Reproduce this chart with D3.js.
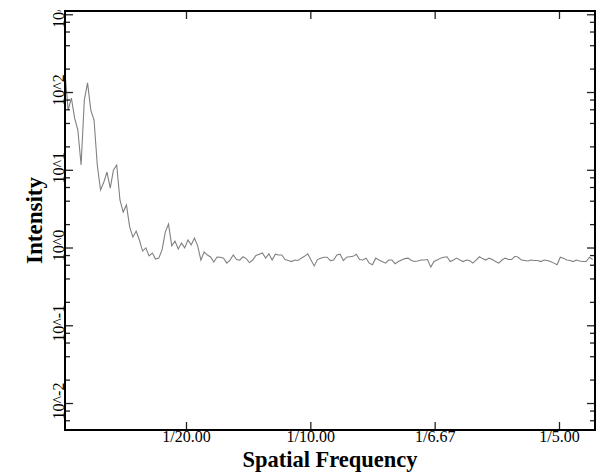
<!DOCTYPE html>
<html>
<head>
<meta charset="utf-8">
<script src="https://cdn.jsdelivr.net/npm/d3@7"></script>
<style>
  body { margin: 0; background: #fff; }
  text { font-family: "Liberation Serif", "DejaVu Serif", serif; fill: #000; }
</style>
</head>
<body>
<div id="chart"></div>
<script>
// samples are evenly spaced in spatial frequency
const freqStep = 1 / 768;

// intensity values
const intensity = [
  181, 58.6, 83.7, 46.3, 32.4, 11.5, 78.8, 131, 58.6, 43.6,
  11.5, 5.49, 6.9, 9.35, 5.82, 9.93, 11.5, 4.09, 2.86, 3.52,
  1.84, 1.36, 1.63, 1.25, 0.90, 0.99, 0.78, 0.85, 0.71, 0.73,
  0.93, 1.58, 2.00, 1.05, 1.21, 0.96, 1.14, 0.99, 1.25, 1.08,
  1.32, 1.05, 0.69, 0.875, 0.80, 0.755, 0.65, 0.755,
  0.75, 0.73, 0.63, 0.69, 0.80, 0.70, 0.69, 0.76, 0.72, 0.64,
  0.69, 0.79, 0.82, 0.85, 0.73, 0.83, 0.69, 0.82, 0.80, 0.80,
  0.70, 0.68, 0.66, 0.69, 0.68, 0.73, 0.77, 0.83, 0.69, 0.58,
  0.70, 0.73, 0.75, 0.75, 0.68, 0.69, 0.80, 0.82, 0.68, 0.75,
  0.76, 0.77, 0.82, 0.70, 0.69, 0.73, 0.63, 0.60, 0.73, 0.69,
  0.66, 0.63, 0.69, 0.69, 0.62, 0.66, 0.69, 0.72, 0.73, 0.68,
  0.66, 0.67, 0.69, 0.69, 0.70, 0.56, 0.66, 0.69, 0.73, 0.75,
  0.76, 0.66, 0.69, 0.73, 0.69, 0.66, 0.69, 0.68, 0.63, 0.69,
  0.76, 0.72, 0.69, 0.73, 0.70, 0.66, 0.63, 0.69, 0.73, 0.70,
  0.70, 0.77, 0.75, 0.69, 0.68, 0.67, 0.69, 0.68, 0.68, 0.66,
  0.69, 0.68, 0.66, 0.63, 0.60, 0.75, 0.73, 0.69, 0.68, 0.66,
  0.69, 0.67, 0.66, 0.66, 0.75, 0.70
];

// x ticks (frequency) and y ticks (decades)
const xTicks = [0.05, 0.1, 0.15, 0.2];
const yDecades = [-2, -1, 0, 1, 2, 3];
const yMinorDigits = [2, 4, 6, 8];

const width = 600;
const height = 474;
const margin = { top: 11, right: 5, bottom: 44, left: 65 };

const svg = d3.select("#chart")
  .append("svg")
  .attr("width", width)
  .attr("height", height);

// scales
const x = d3.scaleLinear()
  .domain([0.00134, 0.21448])
  .range([margin.left, width - margin.right]);

const y = d3.scaleLog()
  .domain([Math.pow(10, -2.347), Math.pow(10, 3.042)])
  .range([height - margin.bottom, margin.top]);

const majorY = yDecades.map(p => Math.pow(10, p));
const minorY = [];
yDecades.forEach(p => yMinorDigits.forEach(m => {
  const v = m * Math.pow(10, p);
  if (v >= y.domain()[0] && v <= y.domain()[1]) minorY.push(v);
}));
[0.002, 0.004, 0.006, 0.008].forEach(v => { if (v >= y.domain()[0]) minorY.push(v); });

// data line
const line = d3.line()
  .x((d, i) => x((i + 1) * freqStep))
  .y(d => y(d));

svg.append("path")
  .datum(intensity)
  .attr("fill", "none")
  .attr("stroke", "#808080")
  .attr("stroke-width", 1.1)
  .attr("d", line);

// axes: ticks point inward
function styleAxis(g) {
  g.select(".domain").remove();
  g.selectAll(".tick line").attr("stroke", "#222").attr("stroke-width", 1.3);
}

const bottom = height - margin.bottom;

svg.append("g")
  .attr("transform", `translate(0,${bottom})`)
  .call(d3.axisBottom(x).tickValues(xTicks).tickSize(-8).tickPadding(1)
    .tickFormat(d => "1/" + (1 / d).toFixed(2)))
  .call(styleAxis)
  .call(g => g.selectAll("text")
    .attr("font-size", 16)
    .attr("font-family", "Liberation Serif")
    .attr("fill", "#000"));

svg.append("g")
  .attr("transform", `translate(0,${margin.top})`)
  .call(d3.axisTop(x).tickValues(xTicks).tickSize(-8).tickFormat(""))
  .call(styleAxis);

svg.append("g")
  .attr("transform", `translate(${margin.left},0)`)
  .call(d3.axisLeft(y).tickValues(majorY.filter(v => v <= y.domain()[1])).tickSize(-8).tickFormat(""))
  .call(styleAxis);

svg.append("g")
  .attr("transform", `translate(${margin.left},0)`)
  .call(d3.axisLeft(y).tickValues(minorY).tickSize(-5).tickFormat(""))
  .call(styleAxis);

svg.append("g")
  .attr("transform", `translate(${width - margin.right},0)`)
  .call(d3.axisRight(y).tickValues(majorY.filter(v => v <= y.domain()[1])).tickSize(-8).tickFormat(""))
  .call(styleAxis);

svg.append("g")
  .attr("transform", `translate(${width - margin.right},0)`)
  .call(d3.axisRight(y).tickValues(minorY).tickSize(-5).tickFormat(""))
  .call(styleAxis);

// y tick labels, rotated and clipped at the top of the frame
svg.append("clipPath").attr("id", "ylab")
  .append("rect").attr("x", 0).attr("y", margin.top - 1)
  .attr("width", margin.left).attr("height", height);

svg.append("g")
  .attr("clip-path", "url(#ylab)")
  .selectAll("text")
  .data(yDecades)
  .enter()
  .append("text")
  .attr("transform", d => `translate(${margin.left - 1},${y(Math.pow(10, d)) - 2}) rotate(-90)`)
  .attr("text-anchor", "middle")
  .attr("font-size", 16)
  .text(d => "10^" + d);

// frame
svg.append("rect")
  .attr("x", margin.left)
  .attr("y", margin.top)
  .attr("width", width - margin.left - margin.right)
  .attr("height", height - margin.top - margin.bottom)
  .attr("fill", "none")
  .attr("stroke", "#000")
  .attr("stroke-width", 2);

// axis titles
svg.append("text")
  .attr("x", (margin.left + width - margin.right) / 2)
  .attr("y", 467)
  .attr("text-anchor", "middle")
  .attr("font-size", 22.5)
  .attr("font-weight", "bold")
  .text("Spatial Frequency");

svg.append("text")
  .attr("transform", `translate(42,${(margin.top + bottom) / 2}) rotate(-90)`)
  .attr("text-anchor", "middle")
  .attr("font-size", 23)
  .attr("font-weight", "bold")
  .text("Intensity");
</script>
</body>
</html>
